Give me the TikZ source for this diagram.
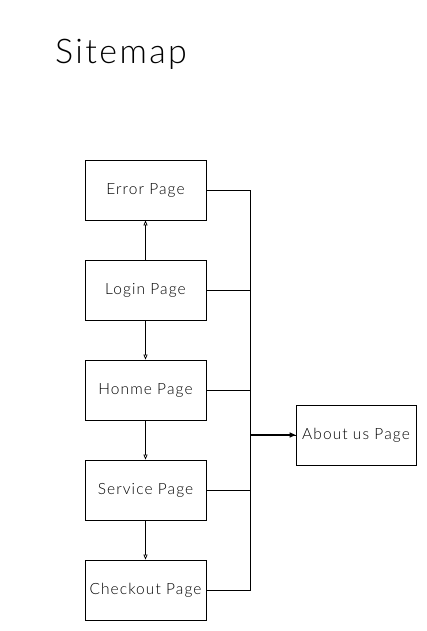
\documentclass[tikz,border=0pt]{standalone}
\usepackage{fontspec}
\setmainfont{Lato Light}[LetterSpace=7]
\usetikzlibrary{arrows.meta}
\tikzset{
  page/.style={draw, line width=0.8pt, minimum width=121pt, minimum height=60pt, inner sep=0pt, font=\fontsize{15.5}{17}\selectfont},
  link/.style={line width=0.7pt, -{Triangle[open, length=5pt, width=4pt]}},
  feed/.style={line width=0.7pt}
}
\begin{document}
\begin{tikzpicture}[x=1pt, y=-1pt]
  \useasboundingbox (0,0) rectangle (427,631);
  \node[anchor=west, inner sep=0pt, font=\fontsize{34}{38}\selectfont] (title) at (55,54) {Sitemap};
  \node[page] (error) at (145.5,190) {Error Page};
  \node[page] (login) at (145.5,290) {Login Page};
  \node[page] (home) at (145.5,390) {Honme Page};
  \node[page] (service) at (145.5,490) {Service Page};
  \node[page] (checkout) at (145.5,590) {Checkout Page};
  \node[page, minimum width=120pt] (about) at (356,435) {About us Page};
  \draw[link] (login) -- (error);
  \draw[link] (login) -- (home);
  \draw[link] (home) -- (service);
  \draw[link] (service) -- (checkout);
  \foreach \n in {error, login, home, service, checkout}
    \draw[feed] (\n.east) -- ++(44,0) |- (about.west);
  \draw[line width=1.4pt, -{Triangle[length=6pt, width=5pt]}] (250,435) -- (about.west);
\end{tikzpicture}
\end{document}
